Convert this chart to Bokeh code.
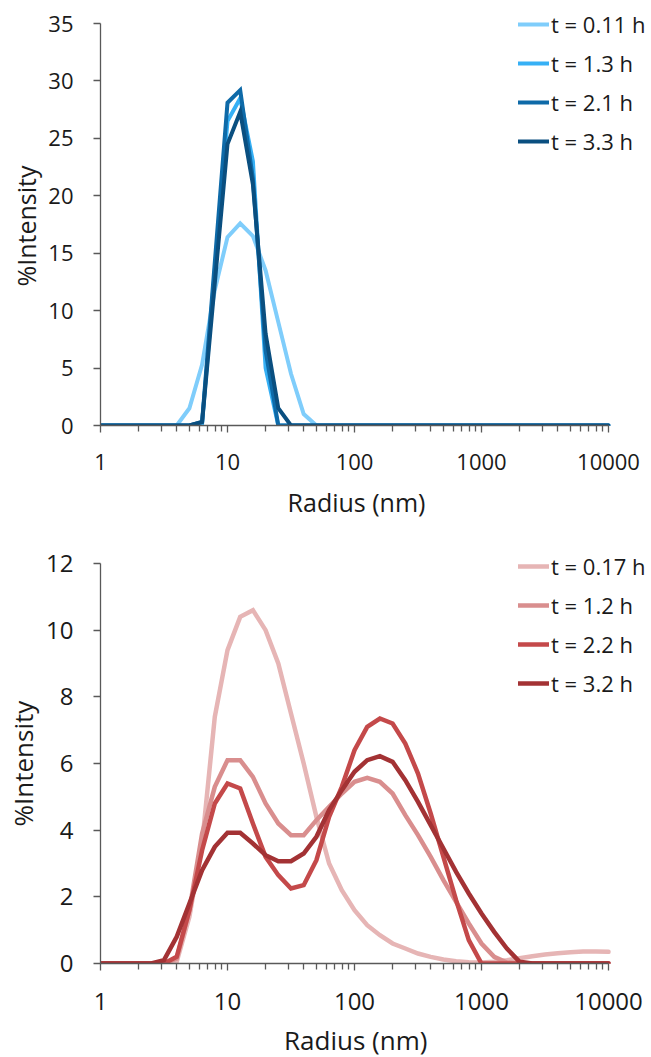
from bokeh.plotting import figure
from bokeh.layouts import column
from bokeh.models import Range1d, FixedTicker, Legend, LegendItem
from bokeh.embed import file_html
from bokeh.resources import INLINE

# Radius grid (nm), log-spaced DLS size bins
radius = [1.0, 1.259, 1.585, 1.995, 2.512, 3.162, 3.981, 5.012, 6.310, 7.943,
          10.0, 12.59, 15.85, 19.95, 25.12, 31.62, 39.81, 50.12, 63.10, 79.43,
          100.0, 125.9, 158.5, 199.5, 251.2, 316.2, 398.1, 501.2, 631.0, 794.3,
          1000.0, 1259.0, 1585.0, 1995.0, 2512.0, 3162.0, 3981.0, 5012.0, 6310.0, 7943.0,
          10000.0]

# Top panel (blue series)
top_labels = ["t = 0.11 h", "t = 1.3 h", "t = 2.1 h", "t = 3.3 h"]
top_colors = ["#7fcdfb", "#36b0f5", "#0e6aa8", "#0a4f80"]
top_t011 = [0, 0, 0, 0, 0, 0, 0, 1.5, 5.3, 11.8, 16.4, 17.6, 16.5, 13.5, 9.0, 4.5, 1.0, 0, 0, 0,
            0, 0, 0, 0, 0, 0, 0, 0, 0, 0, 0, 0, 0, 0, 0, 0, 0, 0, 0, 0, 0]
top_t13 = [0, 0, 0, 0, 0, 0, 0, 0, 0.2, 13.5, 26.5, 28.5, 23.0, 5.0, 0, 0, 0, 0, 0, 0,
           0, 0, 0, 0, 0, 0, 0, 0, 0, 0, 0, 0, 0, 0, 0, 0, 0, 0, 0, 0, 0]
top_t21 = [0, 0, 0, 0, 0, 0, 0, 0, 0.3, 14.2, 28.1, 29.2, 21.5, 6.5, 0, 0, 0, 0, 0, 0,
           0, 0, 0, 0, 0, 0, 0, 0, 0, 0, 0, 0, 0, 0, 0, 0, 0, 0, 0, 0, 0]
top_t33 = [0, 0, 0, 0, 0, 0, 0, 0, 0.3, 12.4, 24.5, 27.3, 21.0, 8.0, 1.5, 0, 0, 0, 0, 0,
           0, 0, 0, 0, 0, 0, 0, 0, 0, 0, 0, 0, 0, 0, 0, 0, 0, 0, 0, 0, 0]

# Bottom panel (red series)
bot_labels = ["t = 0.17 h", "t = 1.2 h", "t = 2.2 h", "t = 3.2 h"]
bot_colors = ["#e6b5b5", "#d98e8e", "#c4494a", "#a33234"]
bot_t017 = [0, 0, 0, 0, 0, 0, 0.05, 1.4, 3.6, 7.4, 9.4, 10.4, 10.6, 10.0, 9.0, 7.5, 6.0, 4.4, 3.0, 2.2,
            1.6, 1.15, 0.85, 0.6, 0.45, 0.3, 0.2, 0.12, 0.07, 0.04, 0.03, 0.05, 0.1, 0.16, 0.22, 0.27,
            0.31, 0.34, 0.36, 0.36, 0.35]
bot_t12 = [0, 0, 0, 0, 0, 0, 0.15, 1.6, 3.9, 5.3, 6.1, 6.1, 5.6, 4.8, 4.2, 3.85, 3.85, 4.3, 4.7, 5.1,
           5.45, 5.57, 5.45, 5.1, 4.45, 3.85, 3.2, 2.5, 1.85, 1.2, 0.6, 0.2, 0.03, 0, 0, 0,
           0, 0, 0, 0, 0]
bot_t22 = [0, 0, 0, 0, 0, 0, 0.2, 1.6, 3.4, 4.8, 5.4, 5.25, 4.2, 3.2, 2.65, 2.25, 2.35, 3.1, 4.4, 5.3,
           6.4, 7.1, 7.35, 7.2, 6.6, 5.7, 4.5, 3.2, 1.9, 0.7, 0, 0, 0, 0, 0, 0,
           0, 0, 0, 0, 0]
bot_t32 = [0, 0, 0, 0, 0, 0.1, 0.8, 1.8, 2.8, 3.5, 3.92, 3.92, 3.6, 3.25, 3.07, 3.07, 3.3, 3.8, 4.6, 5.2,
           5.75, 6.1, 6.22, 6.05, 5.5, 4.85, 4.15, 3.45, 2.75, 2.1, 1.5, 0.95, 0.45, 0.05, 0, 0,
           0, 0, 0, 0, 0]

x_major = [1, 10, 100, 1000, 10000]
x_minor = [m * d for d in [1, 10, 100, 1000] for m in range(2, 10)]

x_title = "Radius (nm)"
y_title = "%Intensity"

FONT = "Open Sans"
TXT = "#1a1a1a"
AX = "#595959"
NBSP = "\u00a0"

AXIS_W = 508        # pixel length of the 1..10000 axis
FRAME_W = 551       # frame extends right so the legend is not clipped


def make_fig(frame_h, pad_top, bbottom, ymax, ystep, series, labels, colors, leg_loc,
             tick_fs, title_fs, lab_stand, title_stand, lw, x_pad, y_pad):
    x_end = 10 ** (4.0 * FRAME_W / AXIS_W)
    y_end = ymax * frame_h / (frame_h - pad_top)
    p = figure(frame_width=FRAME_W, frame_height=frame_h, x_axis_type="log",
               x_range=Range1d(1, x_end), y_range=Range1d(0, y_end),
               output_backend="svg", toolbar_location=None,
               min_border_left=100, min_border_right=0,
               min_border_top=0, min_border_bottom=bbottom)
    p.outline_line_color = None
    p.grid.visible = False
    p.background_fill_color = "white"
    p.border_fill_color = "white"

    p.xaxis.ticker = FixedTicker(ticks=x_major, minor_ticks=x_minor)
    p.xaxis.major_label_overrides = {1: "1", 10: "10", 100: "100", 1000: "1000", 10000: "10000"}
    p.xaxis.bounds = (1, 10000)
    p.yaxis.ticker = FixedTicker(ticks=list(range(0, ymax + 1, ystep)))
    p.yaxis.bounds = (0, ymax)
    for ax in (p.xaxis, p.yaxis):
        ax.axis_line_color = AX
        ax.axis_line_width = 1.3
        ax.major_tick_line_color = AX
        ax.major_tick_line_width = 1.3
        ax.minor_tick_line_color = AX
        ax.minor_tick_line_width = 1.3
        ax.major_tick_in = 0
        ax.major_tick_out = 7
        ax.minor_tick_in = 0
        ax.minor_tick_out = 6
        ax.major_label_text_font = FONT
        ax.major_label_text_font_size = tick_fs
        ax.major_label_text_color = TXT
        ax.axis_label_text_font = FONT
        ax.axis_label_text_font_size = title_fs
        ax.axis_label_text_font_style = "normal"
        ax.axis_label_text_color = TXT
    p.yaxis.minor_tick_line_color = None
    # trailing no-break spaces keep the titles centred on the 1..10000 / 0..ymax axes
    p.xaxis.axis_label = x_title + NBSP * x_pad
    p.yaxis.axis_label = y_title + NBSP * y_pad
    p.xaxis.major_label_standoff = lab_stand
    p.xaxis.axis_label_standoff = title_stand
    p.yaxis.major_label_standoff = 20
    p.yaxis.axis_label_standoff = 2

    items = []
    for ys, lab, col in zip(series, labels, colors):
        r = p.line(radius, ys, line_color=col, line_width=lw, line_join="miter", line_cap="round")
        items.append(LegendItem(label=lab, renderers=[r]))
    leg = Legend(items=items, location=leg_loc)
    leg.background_fill_alpha = 0
    leg.border_line_color = None
    leg.padding = 0
    leg.margin = 0
    leg.spacing = 9
    leg.glyph_width = 31
    leg.glyph_height = 24
    leg.label_height = 24
    leg.label_standoff = 2
    leg.label_text_font = FONT
    leg.label_text_font_size = "22px"
    leg.label_text_color = TXT
    p.add_layout(leg)
    return p


p1 = make_fig(425, 23, 118, 35, 5, [top_t011, top_t13, top_t21, top_t33],
              top_labels, top_colors, (418, 269), "22px", "25px", 21, 12, 4, 6, 4)
p2 = make_fig(420, 20, 94, 12, 2, [bot_t017, bot_t12, bot_t22, bot_t32],
              bot_labels, bot_colors, (418, 265), "24px", "26px", 22, 9, 4.5, 6, 3)

layout = column(p1, p2, spacing=0)
open("out.html", "w").write(file_html(layout, INLINE))
